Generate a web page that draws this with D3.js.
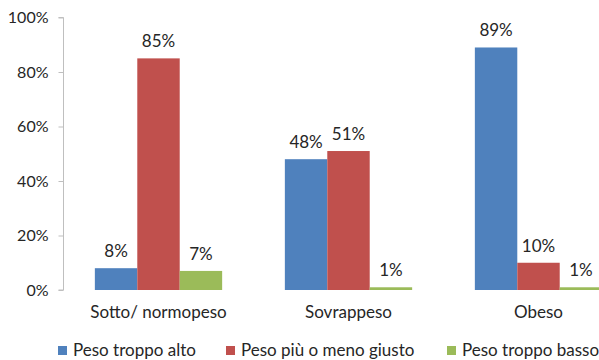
<!DOCTYPE html>
<html>
<head>
<meta charset="utf-8">
<script src="https://cdn.jsdelivr.net/npm/d3@7/dist/d3.min.js"></script>
<style>
  html, body { margin: 0; padding: 0; background: #fff; }
  svg { display: block; }
  text { font-family: Lato, "Open Sans", sans-serif; fill: #262626; }
</style>
</head>
<body>
<svg id="chart" width="599" height="360"></svg>
<script>
// Data
const categories = ["Sotto/ normopeso", "Sovrappeso", "Obeso"];
const seriesNames = ["Peso troppo alto", "Peso più o meno giusto", "Peso troppo basso"];
const altoValues = [8, 48, 89];
const giustoValues = [85, 51, 10];
const bassoValues = [7, 1, 1];
const yTicks = [0, 20, 40, 60, 80, 100];
const colors = ["#4F81BD", "#C0504D", "#9BBB59"];

const seriesValues = [altoValues, giustoValues, bassoValues];

const svg = d3.select("#chart");

// Plot geometry (the category band runs past the right edge of the canvas)
const left = 63.5, bandStep = 190;
const x0 = d3.scaleBand()
  .domain(categories)
  .range([left, left + bandStep * categories.length])
  .paddingInner(0.33)
  .paddingOuter(0.165);
const x1 = d3.scaleBand()
  .domain(d3.range(seriesNames.length))
  .range([0, x0.bandwidth()]);
const y = d3.scaleLinear().domain([0, 100]).range([290, 17.5]);

// Y axis
const yAxis = d3.axisLeft(y)
  .tickValues(yTicks)
  .tickFormat(d => d + "%")
  .tickSize(5)
  .tickPadding(10);
const gy = svg.append("g").attr("transform", `translate(${left},0)`).call(yAxis);
gy.select(".domain").attr("stroke", "#BFBFBF").attr("d", `M-5,${y(100)}H0V${y(0)}H-5`);
gy.selectAll(".tick line").attr("stroke", "#BFBFBF");
gy.selectAll(".tick text").attr("font-size", 16).attr("font-family", "Lato, sans-serif").attr("fill", "#262626");

// Bars
const cellData = (c, ci) => seriesValues.map((vals, si) => ({ si, v: vals[ci] }));
const groups = svg.append("g").selectAll("g")
  .data(categories)
  .join("g")
  .attr("transform", d => `translate(${x0(d)},0)`);

groups.selectAll("rect")
  .data(cellData)
  .join("rect")
  .attr("x", d => x1(d.si))
  .attr("width", x1.bandwidth())
  .attr("y", d => y(d.v))
  .attr("height", d => y(0) - y(d.v))
  .attr("fill", d => colors[d.si]);

// Value labels
groups.selectAll("text.val")
  .data(cellData)
  .join("text")
  .attr("class", "val")
  .attr("x", d => x1(d.si) + x1.bandwidth() / 2)
  .attr("y", d => y(d.v) - 11)
  .attr("text-anchor", "middle")
  .attr("font-size", 17)
  .text(d => d.v + "%");

// Category labels
svg.append("g").selectAll("text")
  .data(categories)
  .join("text")
  .attr("x", d => x0(d) + x0.bandwidth() / 2)
  .attr("y", 318)
  .attr("text-anchor", "middle")
  .attr("font-size", 17)
  .text(d => d);

// Legend
const legendX = [58, 226, 447];
const legend = svg.append("g").selectAll("g")
  .data(seriesNames)
  .join("g")
  .attr("transform", (d, i) => `translate(${legendX[i]},346)`);
legend.append("rect")
  .attr("width", 9).attr("height", 9)
  .attr("fill", (d, i) => colors[i]);
legend.append("text")
  .attr("x", 15).attr("y", 10)
  .attr("font-size", 17)
  .text(d => d);
</script>
</body>
</html>
